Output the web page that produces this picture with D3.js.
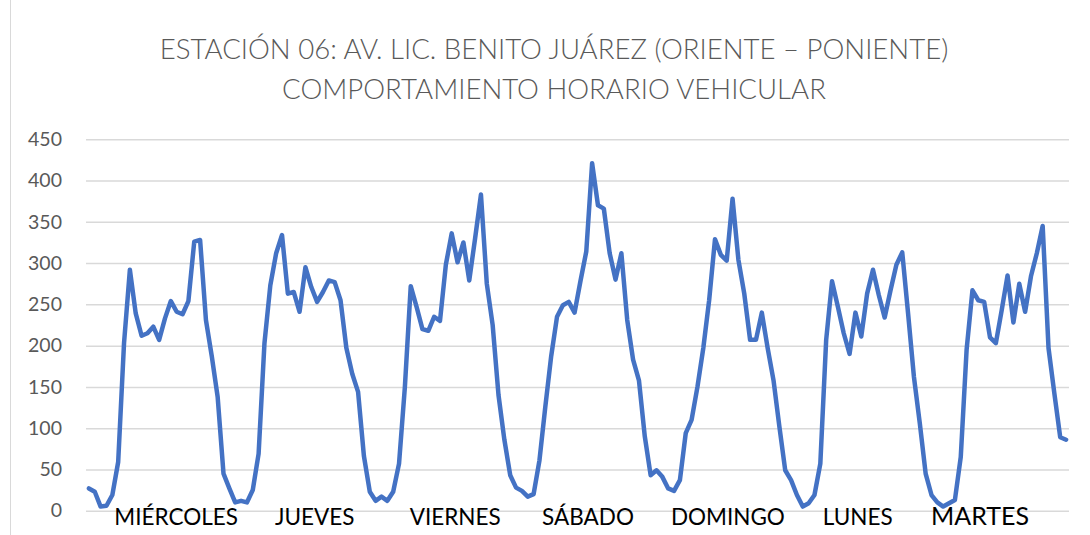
<!DOCTYPE html>
<html lang="es">
<head>
<meta charset="utf-8">
<title>Estación 06 – Comportamiento horario vehicular</title>
<script src="https://cdn.jsdelivr.net/npm/d3@7/dist/d3.min.js"></script>
<style>
  html, body { margin: 0; padding: 0; background: #ffffff; }
  svg { display: block; }
</style>
</head>
<body>
<svg id="chart" width="1090" height="535"></svg>
<script>
// Vehículos por hora (00:00–23:00) para cada día de aforo
const miercoles = [27, 23, 5, 6, 19, 59, 203, 292, 239, 212, 215, 223, 207, 233, 254, 241, 238, 254, 326, 328, 231, 187, 138, 45];
const jueves    = [27, 10, 12, 10, 25, 69, 203, 273, 312, 334, 263, 265, 241, 295, 271, 253, 265, 279, 277, 255, 197, 166, 144, 66];
const viernes   = [23, 12, 17, 12, 23, 57, 150, 272, 247, 220, 218, 235, 230, 298, 336, 301, 325, 279, 330, 383, 275, 225, 140, 86];
const sabado    = [43, 28, 24, 17, 20, 61, 126, 187, 235, 249, 253, 240, 278, 314, 421, 370, 366, 312, 280, 312, 231, 183, 158, 90];
const domingo   = [43, 49, 41, 27, 24, 37, 94, 110, 150, 197, 255, 329, 310, 303, 378, 304, 263, 207, 207, 240, 197, 158, 102, 49];
const lunes     = [37, 19, 5, 9, 19, 57, 207, 278, 247, 215, 190, 240, 211, 263, 292, 261, 234, 267, 298, 313, 239, 162, 106, 45];
const martes    = [19, 10, 5, 9, 13, 65, 195, 267, 255, 253, 210, 203, 243, 285, 228, 275, 241, 284, 312, 345, 197, 142, 89, 86];

const dias = ["MIÉRCOLES", "JUEVES", "VIERNES", "SÁBADO", "DOMINGO", "LUNES", "MARTES"];
// hora (índice continuo) sobre la que se centra el rótulo de cada día
const diaEtiquetaHora = [14.9, 38.6, 62.6, 85.3, 109.2, 131.4, 152.3];
const yTicks = [0, 50, 100, 150, 200, 250, 300, 350, 400, 450];
const titulo = ["ESTACIÓN 06: AV. LIC. BENITO JUÁREZ (ORIENTE – PONIENTE)",
                "COMPORTAMIENTO HORARIO VEHICULAR"];

const serie = [miercoles, jueves, viernes, sabado, domingo, lunes, martes]
  .flat()
  .map((v, i) => ({ i, v }));

const svg = d3.select("#chart");
const W = 1090, H = 535;
const plot = { left: 86, right: 1069, top: 139.3, bottom: 510.7 };
const FONT = "Lato, 'Open Sans', 'Noto Sans', sans-serif";

// borde izquierdo del área del gráfico
svg.append("line")
  .attr("x1", 10.5).attr("x2", 10.5).attr("y1", 0).attr("y2", H)
  .attr("stroke", "#d9d9d9").attr("stroke-width", 1);

const x = d3.scaleLinear()
  .domain([-0.5, serie.length - 0.5])
  .range([plot.left, plot.right]);

const y = d3.scaleLinear()
  .domain([0, 450])
  .range([plot.bottom, plot.top]);

// cuadrícula horizontal
const grid = svg.append("g")
  .attr("transform", `translate(${plot.left},0)`)
  .call(d3.axisLeft(y).tickValues(yTicks).tickSize(-(plot.right - plot.left)).tickFormat(""));
grid.select(".domain").remove();
grid.selectAll("line").attr("stroke", "#d9d9d9").attr("stroke-width", 1.5);

// rótulos del eje vertical
const yAxis = svg.append("g")
  .attr("transform", `translate(62,0)`)
  .call(d3.axisLeft(y).tickValues(yTicks).tickSize(0).tickPadding(0));
yAxis.select(".domain").remove();
yAxis.selectAll("text")
  .attr("fill", "#595959")
  .style("font-family", FONT)
  .style("font-size", "19.5px");

// línea de aforo horario
const line = d3.line()
  .x(d => x(d.i))
  .y(d => y(d.v));

svg.append("path")
  .datum(serie)
  .attr("d", line)
  .attr("fill", "none")
  .attr("stroke", "#4472c4")
  .attr("stroke-width", 4.5)
  .attr("stroke-linejoin", "round")
  .attr("stroke-linecap", "round");

// nombres de los días
svg.append("g")
  .selectAll("text")
  .data(dias)
  .join("text")
  .attr("x", (d, k) => x(diaEtiquetaHora[k]))
  .attr("y", 525)
  .attr("text-anchor", "middle")
  .attr("fill", "#000000")
  .style("font-family", FONT)
  .style("font-size", (d, k) => k === 6 ? "25px" : "22.5px")
  .text(d => d);

// título
svg.append("g")
  .selectAll("text")
  .data(titulo)
  .join("text")
  .attr("x", 554)
  .attr("y", (d, k) => 59 + k * 40)
  .attr("text-anchor", "middle")
  .attr("fill", "#595959")
  .style("font-family", FONT)
  .style("font-weight", 300)
  .style("font-size", "27.6px")
  .text(d => d);
</script>
</body>
</html>
